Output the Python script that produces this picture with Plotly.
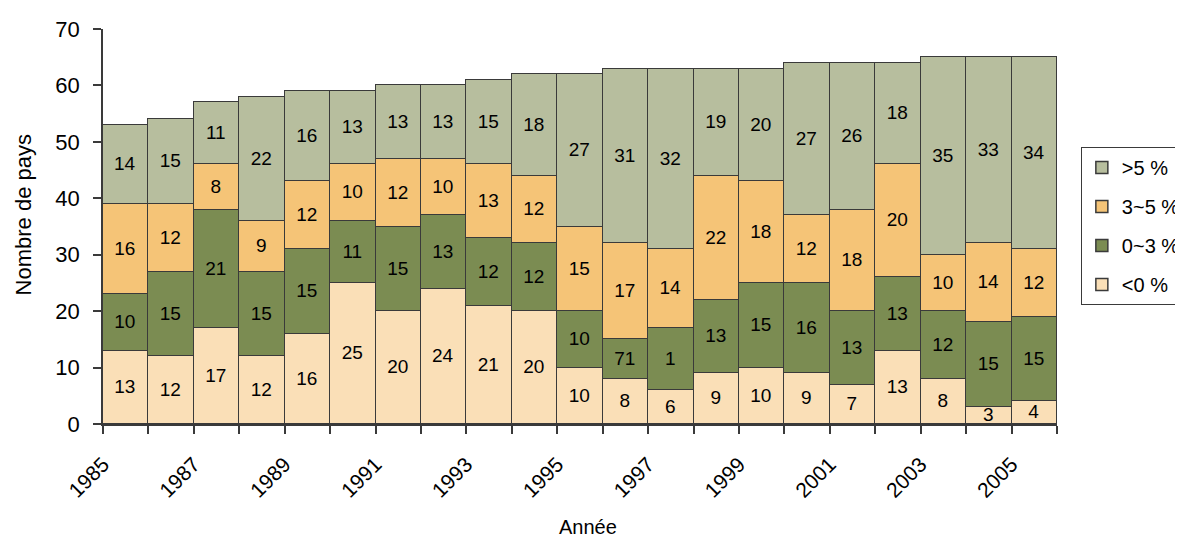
import plotly.graph_objects as go

years = list(range(1985, 2006))
neg = [13, 12, 17, 12, 16, 25, 20, 24, 21, 20, 10, 8, 6, 9, 10, 9, 7, 13, 8, 3, 4]
low = [10, 15, 21, 15, 15, 11, 15, 13, 12, 12, 10, 7, 11, 13, 15, 16, 13, 13, 12, 15, 15]
mid = [16, 12, 8, 9, 12, 10, 12, 10, 13, 12, 15, 17, 14, 22, 18, 12, 18, 20, 10, 14, 12]
high = [14, 15, 11, 22, 16, 13, 13, 13, 15, 18, 27, 31, 32, 19, 20, 27, 26, 18, 35, 33, 34]
# labels as printed in the source (two overlapping labels in 1996/1997)
low_text = [str(v) for v in low]
low_text[11] = "71"
low_text[12] = "1"

series = [
    ("<0 %", neg, [str(v) for v in neg], "#FADFB7"),
    ("0~3 %", low, low_text, "#7B8C52"),
    ("3~5 %", mid, [str(v) for v in mid], "#F5C477"),
    (">5 %", high, [str(v) for v in high], "#B7BE9E"),
]

xpos = [y + 0.5 for y in years]

fig = go.Figure()
for i, (name, vals, txt, col) in enumerate(series):
    fig.add_trace(go.Bar(
        x=xpos, y=vals, name=name, width=1.0,
        marker=dict(color=col, line=dict(color="#3a3a3a", width=1.5)),
        text=txt, textposition="inside", insidetextanchor="middle",
        textangle=0, textfont=dict(size=19, color="black"),
        legendgroup=name, legendrank=10 - i,
        hoverinfo="skip",
    ))

tickvals = list(range(1985, 2007))
ticktext = [str(v) if (v - 1985) % 2 == 0 and v <= 2005 else "" for v in tickvals]

fig.update_layout(
    barmode="stack",
    bargap=0,
    width=1175, height=533,
    plot_bgcolor="white", paper_bgcolor="white",
    font=dict(family="Liberation Sans, Arial, sans-serif", color="black"),
    margin=dict(l=95, r=126, t=21, b=117, autoexpand=False),
    uniformtext=dict(minsize=19, mode="show"),
    xaxis=dict(
        range=[1985, 2006], tickvals=tickvals, ticktext=ticktext,
        tickangle=-45, ticks="outside", ticklen=8, tickwidth=1.5, tickcolor="#3a3a3a",
        showline=True, linecolor="#3a3a3a", linewidth=1.5, showgrid=False, zeroline=False,
        tickfont=dict(size=21), ticklabelstandoff=10, automargin=False,
    ),
    yaxis=dict(
        range=[0, 70], dtick=10, ticks="outside", ticklen=8, tickwidth=1.5, tickcolor="#3a3a3a",
        showline=True, linecolor="#3a3a3a", linewidth=1.5, showgrid=False, zeroline=False,
        tickfont=dict(size=22), ticklabelstandoff=9, automargin=False,
    ),
    annotations=[
        dict(text="Année", xref="paper", yref="paper", x=0.508, y=-0.261,
             xanchor="center", yanchor="middle", showarrow=False, font=dict(size=20)),
        dict(text="Nombre de pays", xref="paper", yref="paper", x=-0.083, y=0.53,
             xanchor="center", yanchor="middle", textangle=-90, showarrow=False,
             font=dict(size=22)),
    ],
    legend=dict(
        x=1.025, y=0.701, xanchor="left", yanchor="top",
        traceorder="grouped", tracegroupgap=10,
        bordercolor="#3a3a3a", borderwidth=1,
        font=dict(size=20),
    ),
)

fig.write_html("out.html")
